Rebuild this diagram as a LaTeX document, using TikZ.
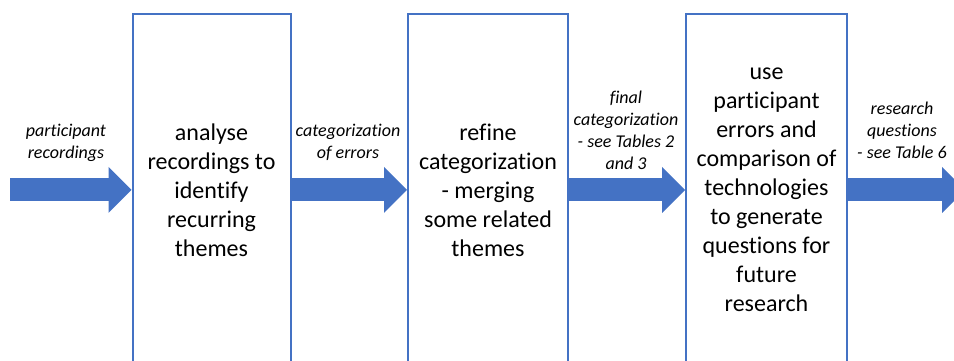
\documentclass[tikz,border=0pt]{standalone}
\usepackage{fontspec}
\setmainfont{Carlito}[Ligatures=NoCommon]
\usetikzlibrary{arrows.meta, positioning}
\definecolor{flowblue}{HTML}{4472C4}

\begin{document}
\begin{tikzpicture}[x=1pt, y=1pt,
    stage/.style={draw=flowblue, line width=2pt, minimum width=158pt, minimum height=352pt,
        align=center, font=\fontsize{24}{29}\selectfont},
    flow/.style={draw=flowblue, line width=23pt, -{Triangle[length=23pt, width=46pt, line width=0pt]}},
    lbl/.style={align=center, font=\fontsize{18}{22}\selectfont\itshape}]
    \clip (0,0) rectangle (954,361);

    % Stages
    \node[stage] (analyse) at (211.5,171) {analyse\\recordings to\\identify\\recurring\\themes};
    \node[stage, minimum width=160pt] (refine) at (488,171) {refine\\categorization\\- merging\\some related\\themes};
    \node[stage, minimum width=161pt] (generate) at (766.5,171) {use\\participant\\errors and\\comparison of\\technologies\\to generate\\questions for\\future\\research};

    % Flow between stages
    \coordinate (start) at (10,171);
    \coordinate (finish) at (965,171);
    \draw[flow] (start) -- (analyse);
    \draw[flow] (analyse) -- (refine);
    \draw[flow] (refine) -- (generate);
    \draw[flow] (generate) -- (finish);

    % Labels
    \node[lbl] (recordings) at (66,218) {participant\\recordings};
    \node[lbl] (categories) at (348,219) {categorization\\of errors};
    \node[lbl] (final) at (626,231) {final\\categorization\\- see Tables 2\\and 3};
    \node[lbl] (questions) at (902,231) {research\\questions\\- see Table 6};
\end{tikzpicture}
\end{document}
